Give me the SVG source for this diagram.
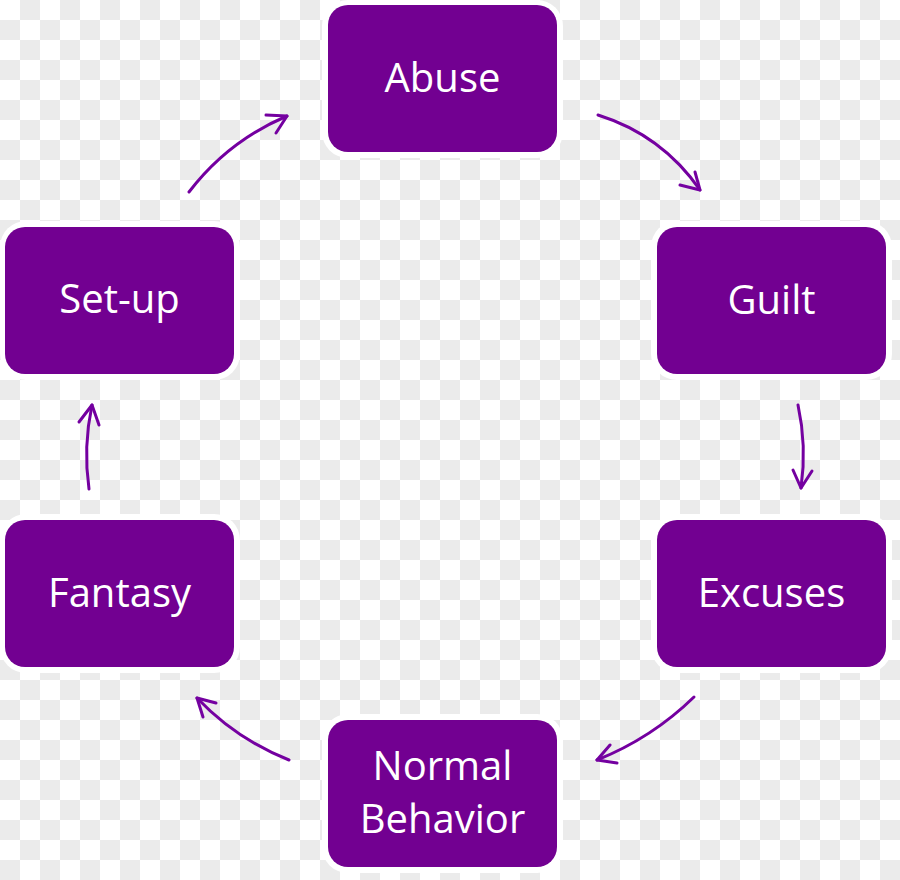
<svg xmlns="http://www.w3.org/2000/svg" width="900" height="880" viewBox="0 0 900 880">
  <defs>
    <pattern id="checker" x="0" y="0" width="40" height="40" patternUnits="userSpaceOnUse">
      <rect x="0" y="0" width="40" height="40" fill="#ffffff"/>
      <rect x="20" y="0" width="20" height="20" fill="#ebebeb"/>
      <rect x="0" y="20" width="20" height="20" fill="#ebebeb"/>
    </pattern>
    <style>
      .halo { fill: #ffffff; }
      .box { fill: #720091; }
      .label { fill: #ffffff; font-family: "Open Sans", "Noto Sans", "Liberation Sans", sans-serif; font-size: 40px; text-anchor: middle; }
      .conn { fill: none; stroke: #7400a0; stroke-width: 3; stroke-linecap: round; stroke-linejoin: round; }
    </style>
  </defs>
  <rect x="0" y="0" width="900" height="880" fill="url(#checker)"/>

  <g id="node-abuse">
    <rect class="halo" x="322" y="0" width="241" height="158" rx="26"/>
    <rect class="box" x="328" y="5" width="229" height="147" rx="20"/>
    <text class="label" x="442.5" y="92">Abuse</text>
  </g>
  <g id="node-guilt">
    <rect class="halo" x="651" y="221" width="241" height="159" rx="26"/>
    <rect class="box" x="657" y="227" width="229" height="147" rx="20"/>
    <text class="label" x="771.5" y="314">Guilt</text>
  </g>
  <g id="node-excuses">
    <rect class="halo" x="651" y="514" width="241" height="159" rx="26"/>
    <rect class="box" x="657" y="520" width="229" height="147" rx="20"/>
    <text class="label" x="771.5" y="607">Excuses</text>
  </g>
  <g id="node-normal-behavior">
    <rect class="halo" x="322" y="714" width="241" height="159" rx="26"/>
    <rect class="box" x="328" y="720" width="229" height="147" rx="20"/>
    <text class="label" x="442.5" y="780">Normal</text>
    <text class="label" x="442.5" y="833">Behavior</text>
  </g>
  <g id="node-fantasy">
    <rect class="halo" x="0" y="514" width="240" height="159" rx="26"/>
    <rect class="box" x="5" y="520" width="229" height="147" rx="20"/>
    <text class="label" x="119.5" y="607">Fantasy</text>
  </g>
  <g id="node-setup">
    <rect class="halo" x="0" y="221" width="240" height="159" rx="26"/>
    <rect class="box" x="5" y="227" width="229" height="147" rx="20"/>
    <text class="label" x="119.5" y="313">Set-up</text>
  </g>

  <g id="connectors">
    <path class="conn" d="M598,115 Q662,135 700,190"/>
    <polyline class="conn" points="695,172 700,190 680,185"/>
    <path class="conn" d="M798,405 Q807,446 801,488"/>
    <polyline class="conn" points="793,470 801,488 812,471"/>
    <path class="conn" d="M694,697 Q652,738 597,760"/>
    <polyline class="conn" points="610,745 597,760 617,763"/>
    <path class="conn" d="M289,760 Q236,739 197,698"/>
    <polyline class="conn" points="216,703 197,698 203,717"/>
    <path class="conn" d="M89,489 Q83,447 92,405"/>
    <polyline class="conn" points="79,422 92,405 99,425"/>
    <path class="conn" d="M189,192 Q228,141 287,116"/>
    <polyline class="conn" points="266,115 287,116 276,133"/>
  </g>
</svg>
